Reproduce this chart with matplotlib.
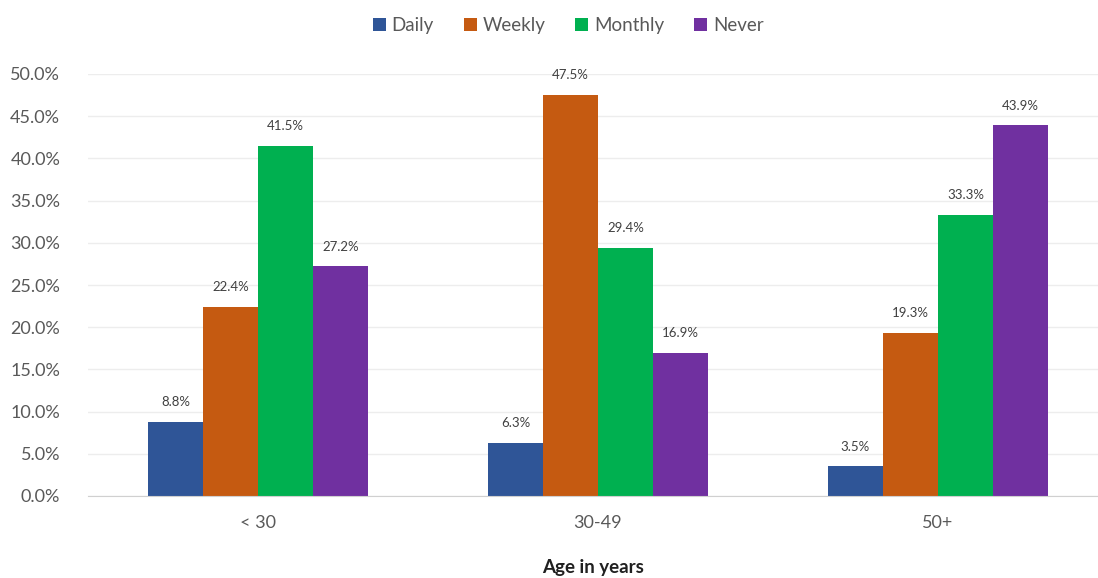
import numpy as np
import matplotlib.pyplot as plt

age_groups = ["< 30", "30-49", "50+"]
daily = [8.8, 6.3, 3.5]
weekly = [22.4, 47.5, 19.3]
monthly = [41.5, 29.4, 33.3]
never = [27.2, 16.9, 43.9]

series = [("Daily", daily, "#2F5597"),
          ("Weekly", weekly, "#C55A11"),
          ("Monthly", monthly, "#00B050"),
          ("Never", never, "#7030A0")]

plt.rcParams['font.family'] = ['Lato', 'DejaVu Sans']

fig = plt.figure(figsize=(10.98, 5.78), dpi=100)
ax = fig.add_axes([88 / 1098, 1 - 496 / 578, 1 - 88 / 1098, (496 - 74) / 578])

x = np.arange(len(age_groups))
width = 0.162
for i, (name, vals, color) in enumerate(series):
    offs = (i - 1.5) * width
    bars = ax.bar(x + offs, vals, width, color=color, label=name, zorder=3)
    ax.bar_label(bars, labels=[f"{v:.1f}%" for v in vals], padding=10,
                 fontsize=9.5, color="#404040")

ax.set_xlim(-0.5, -0.5 + (1098 - 88) / 340)
ax.set_ylim(0, 50)
ax.set_yticks(np.arange(0, 50.1, 5))
ax.set_yticklabels([f"{t:.1f}%" for t in np.arange(0, 50.1, 5)])
ax.set_xticks(x)
ax.set_xticklabels(age_groups)
ax.tick_params(axis='both', length=0, labelsize=13, colors="#595959")
ax.tick_params(axis='y', pad=20)
ax.tick_params(axis='x', pad=14)
ax.grid(axis='y', color="#EDEDED", linewidth=1, zorder=0)
for s in ["top", "right", "left"]:
    ax.spines[s].set_visible(False)
ax.spines["bottom"].set_color("#D0D0D0")
ax.spines["bottom"].set_zorder(4)

ax.set_xlabel("Age in years", fontsize=13.5, fontweight="bold", color="#202020", labelpad=20)

fig.legend(loc="upper center", bbox_to_anchor=(568 / 1098, 1.0), ncol=4, frameon=False,
           fontsize=13.5, handlelength=0.7, handleheight=0.7, handletextpad=0.3,
           columnspacing=1.6, labelcolor="#595959")

fig.savefig("out.png", dpi=100)
